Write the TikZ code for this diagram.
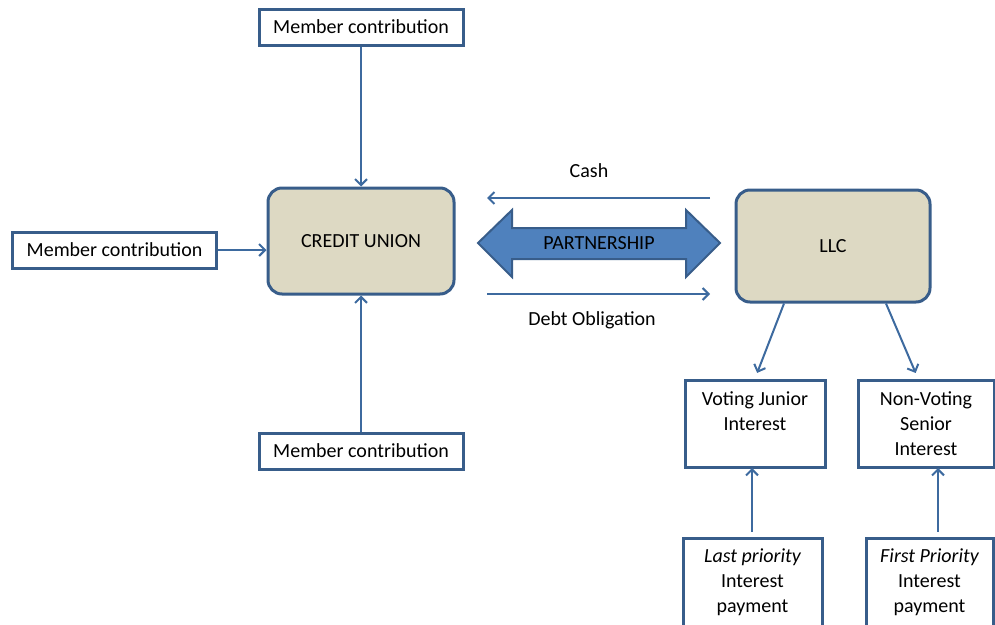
\documentclass[tikz,border=0pt]{standalone}
\usepackage{fontspec}
\setmainfont{Carlito}
\usetikzlibrary{arrows.meta}
\definecolor{boxline}{HTML}{385D8A}
\definecolor{linkline}{HTML}{3D6A9F}
\definecolor{hubfill}{HTML}{DDD9C3}
\definecolor{partfill}{HTML}{4F81BD}
\tikzset{
  member/.style={draw=boxline, line width=3pt, fill=white, minimum width=204pt, minimum height=36pt, inner sep=0pt},
  hub/.style={draw=boxline, line width=3pt, fill=hubfill, rounded corners=14pt},
  stake/.style={draw=boxline, line width=3pt, fill=white, align=center, inner sep=0pt},
  link/.style={draw=linkline, line width=2pt, -{Straight Barb[length=6pt,width=12pt]}},
}
\begin{document}
\begin{tikzpicture}[x=1pt, y=-1pt, font=\fontsize{20}{25}\selectfont]
  \useasboundingbox (0,0) rectangle (995,624);
  \clip (0,0) rectangle (995,624);
  % member boxes
  \node[member] (mtop) at (361,27) {Member contribution};
  \node[member] (mleft) at (114.5,250) {Member contribution};
  \node[member] (mbot) at (361,451) {Member contribution};
  % the two parties
  \node[hub, minimum width=186pt, minimum height=106pt] (cu) at (361,241) {CREDIT UNION};
  \node[hub, minimum width=194pt, minimum height=112pt] (llc) at (833,246) {LLC};
  % partnership arrow
  \filldraw[fill=partfill, draw=boxline, line width=2pt]
    (478,243) -- (512,210) -- (512,228) -- (686,228) -- (686,210) -- (720,243)
    -- (686,277) -- (686,259) -- (512,259) -- (512,277) -- cycle;
  \node (partner) at (599,243) {PARTNERSHIP};
  % interests
  \node[stake, minimum width=140pt, minimum height=87pt] (junior) at (755,423.5) {Voting Junior\\Interest\\\phantom{I}};
  \node[stake, minimum width=136pt, minimum height=87pt] (senior) at (926,423.5) {Non-Voting\\Senior\\Interest};
  \node[stake, minimum width=139pt, minimum height=88pt] (last) at (752.5,582) {\itshape Last priority\\Interest\\payment};
  \node[stake, minimum width=127pt, minimum height=88pt] (first) at (929.5,582) {\itshape First Priority\\\upshape Interest\\payment};
  % cash and debt
  \coordinate (cashR) at (710,198);
  \coordinate (cashL) at (487,198);
  \coordinate (debtL) at (487,294);
  \coordinate (debtR) at (710,294);
  \node (cash) at (589,171) {Cash};
  \node (debt) at (592,320) {Debt Obligation};
  \draw[link] (cashR) -- (cashL);
  \draw[link] (debtL) -- (debtR);
  % connectors
  \draw[link] (mtop) -- (cu);
  \draw[link] (mleft.east) -- (mleft.east -| cu.west);
  \draw[link] (mbot) -- (cu);
  \draw[link, shorten >=6pt] ([xshift=-49pt]llc.south) -- (junior.north);
  \draw[link, shorten >=6pt] ([xshift=53pt]llc.south) -- ([xshift=-8pt]senior.north);
  \draw[link] ([yshift=5pt]last.north -| 752,0) -- (752,468);
  \draw[link] ([yshift=5pt]first.north -| 938,0) -- (938,468);
\end{tikzpicture}
\end{document}
